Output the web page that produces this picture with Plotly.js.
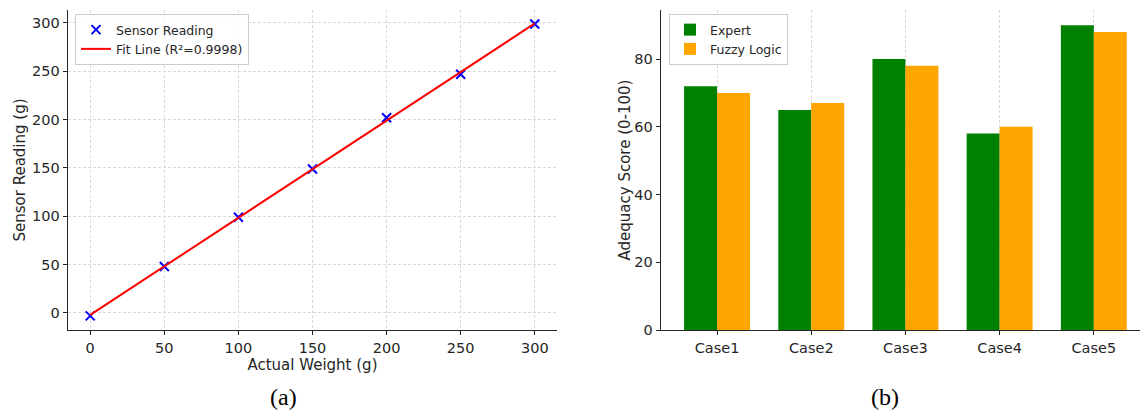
<!DOCTYPE html>
<html><head><meta charset="utf-8">
<script src="https://cdn.plot.ly/plotly-3.0.1.min.js"></script>
<style>html,body{margin:0;padding:0;background:#fff;overflow:hidden}#chart{width:1140px;height:412px}</style>
</head><body><div id="chart"></div>
<script>
// Panel (a)
const actualWeight = [0, 50, 100, 150, 200, 250, 300];
const sensorReading = [-3, 48, 99, 149, 202, 247, 299];
const fitX = [0, 300];
const fitY = [-2.0, 299.5];
// Panel (b)
const cases = ['Case1', 'Case2', 'Case3', 'Case4', 'Case5'];
const expert = [72, 65, 80, 58, 90];
const fuzzy = [70, 67, 78, 60, 88];

const W = 1140, H = 412;
const px = v => v / W, py = v => 1 - v / H;
const tickFont = {family: 'DejaVu Sans', size: 14.5, color: '#262626'};
const titleFont = {family: 'DejaVu Sans', size: 15, color: '#262626'};

const traces = [
  {x: actualWeight, y: sensorReading, type: 'scatter', mode: 'markers', name: 'Sensor Reading',
   marker: {symbol: 'x-thin', size: 9, color: 'blue', line: {color: 'blue', width: 2}},
   xaxis: 'x', yaxis: 'y', legend: 'legend'},
  {x: fitX, y: fitY, type: 'scatter', mode: 'lines', name: 'Fit Line (R²=0.9998)',
   line: {color: 'red', width: 2}, xaxis: 'x', yaxis: 'y', legend: 'legend'},
  {x: cases, y: expert, type: 'bar', name: 'Expert', marker: {color: '#008000'},
   xaxis: 'x2', yaxis: 'y2', legend: 'legend2'},
  {x: cases, y: fuzzy, type: 'bar', name: 'Fuzzy Logic', marker: {color: '#FFA500'},
   xaxis: 'x2', yaxis: 'y2', legend: 'legend2'}
];

const axBase = {showline: true, linecolor: '#262626', linewidth: 1.3, mirror: false,
  ticks: 'outside', ticklen: 4, tickcolor: '#262626', tickfont: tickFont, zeroline: false};
const grid = {showgrid: true, gridcolor: '#d9d9d9', griddash: '3px,2px', gridwidth: 1};

const layout = {
  width: W, height: H, margin: {l: 0, r: 0, t: 0, b: 0},
  paper_bgcolor: '#fff', plot_bgcolor: '#fff',
  barmode: 'group', bargap: 0.3, bargroupgap: 0,
  xaxis: Object.assign({}, axBase, grid, {domain: [px(68), px(557)], range: [-15, 315],
    tickvals: [0, 50, 100, 150, 200, 250, 300],
    title: {text: 'Actual Weight (g)', font: titleFont, standoff: 0}, anchor: 'y'}),
  yaxis: Object.assign({}, axBase, grid, {domain: [py(330), py(10)], range: [-17.6, 313.4],
    tickvals: [0, 50, 100, 150, 200, 250, 300],
    title: {text: 'Sensor Reading (g)', font: titleFont, standoff: 3}, anchor: 'x'}),
  xaxis2: Object.assign({}, axBase, grid, {domain: [px(661), 1], range: [-0.595, 4.49],
    anchor: 'y2'}),
  yaxis2: Object.assign({}, axBase, {domain: [py(330), py(10)], range: [0, 94.5],
    tickvals: [0, 20, 40, 60, 80], showgrid: false,
    title: {text: 'Adequacy Score (0-100)', font: titleFont, standoff: 0}, anchor: 'x2'}),
  legend: {x: px(75), y: py(14), xanchor: 'left', yanchor: 'top',
    bgcolor: 'rgba(255,255,255,0.8)', bordercolor: '#cccccc', borderwidth: 1,
    font: {family: 'DejaVu Sans', size: 12.5, color: '#262626'}, tracegroupgap: 0},
  legend2: {x: px(669), y: py(14), xanchor: 'left', yanchor: 'top',
    bgcolor: 'rgba(255,255,255,0.8)', bordercolor: '#cccccc', borderwidth: 1,
    font: {family: 'DejaVu Sans', size: 12.5, color: '#262626'}, tracegroupgap: 0},
  showlegend: true,
  annotations: [
    {text: '(a)', x: px(283), y: py(397), xref: 'paper', yref: 'paper', showarrow: false,
     xanchor: 'center', yanchor: 'middle',
     font: {family: 'Liberation Serif', size: 24, color: '#000'}},
    {text: '(b)', x: px(885), y: py(397), xref: 'paper', yref: 'paper', showarrow: false,
     xanchor: 'center', yanchor: 'middle',
     font: {family: 'Liberation Serif', size: 24, color: '#000'}}
  ]
};

Plotly.newPlot('chart', traces, layout, {staticPlot: true, displayModeBar: false});
</script></body></html>
